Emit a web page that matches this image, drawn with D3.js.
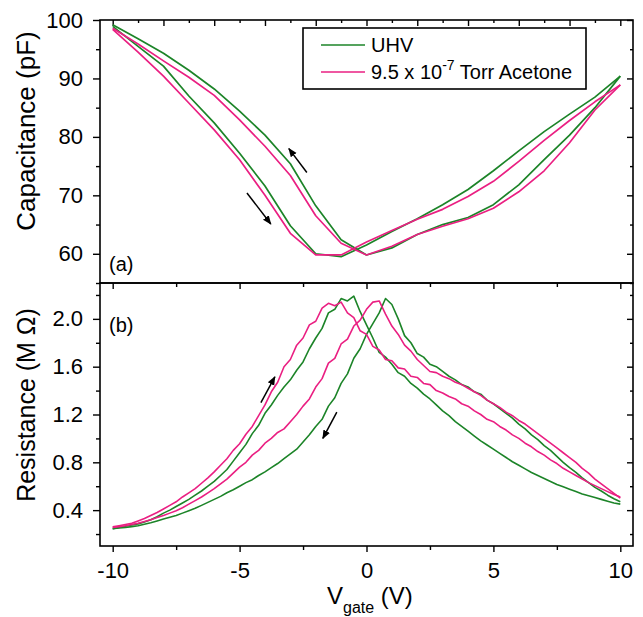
<!DOCTYPE html>
<html>
<head>
<meta charset="utf-8">
<script src="https://cdn.jsdelivr.net/npm/d3@7"></script>
<style>
  html, body { margin: 0; padding: 0; background: #fff; }
  svg text { font-family: "Liberation Sans", Arial, sans-serif; fill: #000; }
</style>
</head>
<body>
<svg id="chart" width="643" height="617"></svg>
<script>
// ---- Capacitance vs gate voltage (panel a) ----
const capVgate = [-10,-9,-8,-7,-6,-5,-4,-3,-2,-1,0,1,2,3,4,5,6,7,8,9,10];
const capUHVFwd = [98.9,95.5,92.1,87.0,82.4,77.2,71.6,64.8,60.0,59.5,61.5,63.8,66.0,68.4,71.0,74.2,77.6,80.9,83.9,86.8,90.4];
const capUHVBwd = [99.2,96.8,94.3,91.4,88.2,84.4,80.3,75.4,68.2,62.4,59.8,61.0,63.3,65.0,66.2,68.4,71.8,76.1,80.3,85.0,90.4];
const capAcetoneFwd = [98.4,94.5,90.4,85.8,81.2,76.1,70.0,63.5,59.8,59.8,62.0,64.0,65.9,67.6,69.8,72.4,75.8,79.4,82.8,86.0,88.9];
const capAcetoneBwd = [98.6,95.9,93.0,90.2,87.1,82.9,78.4,73.4,66.5,61.8,59.8,61.3,63.3,64.7,66.0,67.8,70.6,74.2,79.0,84.6,88.9];

// ---- Resistance vs gate voltage (panel b) ----
const resVgate = [-10,-9.75,-9.5,-9.25,-9,-8.75,-8.5,-8.25,-8,
  -7.75,-7.5,-7.25,-7,-6.75,-6.5,-6.25,-6,
  -5.75,-5.5,-5.25,-5,-4.75,-4.5,-4.25,-4,
  -3.75,-3.5,-3.25,-3,-2.75,-2.5,-2.25,-2,
  -1.75,-1.5,-1.25,-1,-0.75,-0.5,-0.25,0,
  0.25,0.5,0.75,1,1.25,1.5,1.75,2,
  2.25,2.5,2.75,3,3.25,3.5,3.75,4,
  4.25,4.5,4.75,5,5.25,5.5,5.75,6,
  6.25,6.5,6.75,7,7.25,7.5,7.75,8,
  8.25,8.5,8.75,9,9.25,9.5,9.75,10];
const resAcetoneFwd = [0.26,0.27,0.28,0.29,0.31,0.33,0.355,0.38,0.41,
  0.44,0.47,0.51,0.545,0.58,0.625,0.67,0.72,
  0.775,0.83,0.90,0.955,1.035,1.10,1.19,1.28,
  1.39,1.47,1.60,1.66,1.78,1.84,1.95,1.98,
  2.09,2.13,2.11,2.14,2.05,2.01,1.90,1.87,
  1.77,1.74,1.66,1.65,1.59,1.58,1.52,1.51,
  1.46,1.45,1.40,1.38,1.35,1.33,1.29,1.27,
  1.23,1.20,1.16,1.14,1.10,1.07,1.03,1.00,
  0.96,0.93,0.89,0.86,0.82,0.79,0.75,0.72,
  0.69,0.66,0.63,0.605,0.58,0.555,0.53,0.51];
const resUHVFwd = [0.245,0.255,0.265,0.275,0.285,0.30,0.32,0.345,0.375,
  0.40,0.43,0.46,0.49,0.525,0.56,0.60,0.64,
  0.69,0.74,0.81,0.88,0.95,1.04,1.11,1.21,
  1.28,1.36,1.43,1.49,1.57,1.64,1.75,1.84,
  1.92,2.05,2.08,2.17,2.15,2.19,2.06,1.95,
  1.84,1.72,1.68,1.62,1.55,1.52,1.46,1.42,
  1.37,1.33,1.28,1.23,1.19,1.14,1.10,1.06,
  1.02,0.98,0.945,0.91,0.875,0.84,0.805,0.775,
  0.745,0.715,0.69,0.665,0.64,0.615,0.595,0.575,
  0.555,0.535,0.52,0.505,0.49,0.475,0.46,0.45];
const resAcetoneBwd = [0.255,0.262,0.27,0.28,0.29,0.305,0.32,0.338,0.355,
  0.375,0.395,0.42,0.45,0.48,0.51,0.545,0.58,
  0.62,0.66,0.71,0.76,0.80,0.86,0.90,0.96,
  1.00,1.05,1.08,1.14,1.20,1.27,1.33,1.43,
  1.50,1.63,1.67,1.79,1.83,1.94,1.99,2.08,
  2.14,2.15,2.04,1.94,1.87,1.78,1.73,1.66,
  1.61,1.56,1.55,1.52,1.50,1.47,1.45,1.42,
  1.39,1.36,1.32,1.29,1.26,1.22,1.19,1.15,
  1.12,1.08,1.04,1.00,0.96,0.92,0.88,0.84,
  0.80,0.75,0.71,0.66,0.62,0.58,0.54,0.50];
const resUHVBwd = [0.245,0.25,0.255,0.262,0.27,0.282,0.295,0.31,0.325,
  0.34,0.355,0.375,0.395,0.415,0.44,0.465,0.49,
  0.515,0.545,0.57,0.60,0.63,0.655,0.69,0.72,
  0.755,0.79,0.83,0.87,0.91,0.97,1.03,1.10,
  1.16,1.27,1.34,1.46,1.54,1.67,1.75,1.87,
  1.96,2.05,2.17,2.12,2.00,1.86,1.80,1.71,
  1.68,1.62,1.60,1.56,1.52,1.49,1.45,1.43,
  1.39,1.37,1.32,1.29,1.25,1.21,1.17,1.12,
  1.08,1.03,0.99,0.94,0.90,0.85,0.80,0.755,
  0.715,0.67,0.63,0.59,0.56,0.525,0.495,0.47];

// ---- Tick values ----
const xLabelTicks = [-10,-5,0,5,10];
const xMinorTicks = [-7.5,-2.5,2.5,7.5];
const xTopMajor = [-10,-8,-6,-4,-2,0,2,4,6,8,10];
const xTopMinor = [-9,-7,-5,-3,-1,1,3,5,7,9];
const capMajor = [60,70,80,90,100];
const capMinor = [55,65,75,85,95];
const resMajor = [0.4,0.8,1.2,1.6,2.0];
const resMinor = [0.2,0.6,1.0,1.4,1.8,2.2];

// ---- Series / legend ----
const legendLabels = ["UHV", "9.5 x 10", "-7", " Torr Acetone"];
const colorUHV = "#1c8428";
const colorAcetone = "#ea1f82";

// Direction arrows, [gate voltage, value] from tail to head
const capArrows = [[[-2.35,73.9],[-3.06,78.0]], [[-4.71,70.4],[-3.77,65.1]]];
const resArrows = [[[-4.16,1.30],[-3.61,1.515]], [[-1.17,1.22],[-1.72,1.0]]];

const svg = d3.select("#chart");
const L = 100, R = 633, T1 = 20, MID = 283, B2 = 546;
const FONT = '"Liberation Sans", Arial, sans-serif';

const x = d3.scaleLinear().domain([-10.5, 10.5]).range([L, R]);
const yCap = d3.scaleLinear().domain([55, 100]).range([MID, T1]);
const yRes = d3.scaleLinear().domain([0.1, 2.3]).range([B2, MID]);

svg.append("defs").append("marker")
  .attr("id", "head").attr("viewBox", "0 0 10 10")
  .attr("refX", 9).attr("refY", 5)
  .attr("markerWidth", 9).attr("markerHeight", 9)
  .attr("markerUnits", "userSpaceOnUse")
  .attr("orient", "auto")
  .append("path").attr("d", "M0,1 L10,5 L0,9 Z").attr("fill", "#000");

function styleAxis(g, fontSize) {
  g.select(".domain").remove();
  g.selectAll(".tick line").attr("stroke", "#000").attr("stroke-width", 1.4);
  g.selectAll(".tick text").attr("font-size", fontSize).attr("fill", "#000")
    .attr("font-family", FONT);
}
const plainNum = d => String(d);
const oneDec = d => d.toFixed(1);

// ---- Panel (a) axes ----
svg.append("g").attr("transform", `translate(${L},0)`)
  .call(d3.axisLeft(yCap).tickValues(capMajor).tickSize(7).tickPadding(10).tickFormat(plainNum))
  .call(g => styleAxis(g, 22));
svg.append("g").attr("transform", `translate(${L},0)`)
  .call(d3.axisLeft(yCap).tickValues(capMinor).tickSize(4).tickFormat(""))
  .call(g => styleAxis(g, 0));
svg.append("g").attr("transform", `translate(${R},0)`)
  .call(d3.axisRight(yCap).tickValues(capMajor).tickSize(-6).tickFormat(""))
  .call(g => styleAxis(g, 0));
svg.append("g").attr("transform", `translate(${R},0)`)
  .call(d3.axisRight(yCap).tickValues(capMinor).tickSize(-3).tickFormat(""))
  .call(g => styleAxis(g, 0));
svg.append("g").attr("transform", `translate(0,${T1})`)
  .call(d3.axisTop(x).tickValues(xTopMajor).tickSize(-6).tickFormat(""))
  .call(g => styleAxis(g, 0));
svg.append("g").attr("transform", `translate(0,${T1})`)
  .call(d3.axisTop(x).tickValues(xTopMinor).tickSize(-3).tickFormat(""))
  .call(g => styleAxis(g, 0));

// ---- Panel (b) axes ----
svg.append("g").attr("transform", `translate(${L},0)`)
  .call(d3.axisLeft(yRes).tickValues(resMajor).tickSize(7).tickPadding(10).tickFormat(oneDec))
  .call(g => styleAxis(g, 22));
svg.append("g").attr("transform", `translate(${L},0)`)
  .call(d3.axisLeft(yRes).tickValues(resMinor).tickSize(4).tickFormat(""))
  .call(g => styleAxis(g, 0));
svg.append("g").attr("transform", `translate(${R},0)`)
  .call(d3.axisRight(yRes).tickValues(resMajor).tickSize(-6).tickFormat(""))
  .call(g => styleAxis(g, 0));
svg.append("g").attr("transform", `translate(${R},0)`)
  .call(d3.axisRight(yRes).tickValues(resMinor).tickSize(-3).tickFormat(""))
  .call(g => styleAxis(g, 0));
svg.append("g").attr("transform", `translate(0,${MID})`)
  .call(d3.axisTop(x).tickValues(xLabelTicks).tickSize(-6).tickFormat(""))
  .call(g => styleAxis(g, 0));
svg.append("g").attr("transform", `translate(0,${MID})`)
  .call(d3.axisTop(x).tickValues(xMinorTicks).tickSize(-4).tickFormat(""))
  .call(g => styleAxis(g, 0));
svg.append("g").attr("transform", `translate(0,${B2})`)
  .call(d3.axisBottom(x).tickValues(xLabelTicks).tickSize(6).tickPadding(10).tickFormat(plainNum))
  .call(g => styleAxis(g, 22));
svg.append("g").attr("transform", `translate(0,${B2})`)
  .call(d3.axisBottom(x).tickValues(xMinorTicks).tickSize(4).tickFormat(""))
  .call(g => styleAxis(g, 0));

// ---- Curves ----
const lineCap = d3.line().x(d => x(d[0])).y(d => yCap(d[1]));
const lineRes = d3.line().x(d => x(d[0])).y(d => yRes(d[1]));

const capCurves = [
  [capUHVFwd, colorUHV], [capUHVBwd, colorUHV],
  [capAcetoneFwd, colorAcetone], [capAcetoneBwd, colorAcetone]
];
capCurves.forEach(([vals, col]) => {
  svg.append("path").datum(d3.zip(capVgate, vals))
    .attr("d", lineCap).attr("fill", "none")
    .attr("stroke", col).attr("stroke-width", 1.7).attr("stroke-linejoin", "round");
});

const resCurves = [
  [resUHVFwd, colorUHV], [resUHVBwd, colorUHV],
  [resAcetoneFwd, colorAcetone], [resAcetoneBwd, colorAcetone]
];
resCurves.forEach(([vals, col]) => {
  svg.append("path").datum(d3.zip(resVgate, vals))
    .attr("d", lineRes).attr("fill", "none")
    .attr("stroke", col).attr("stroke-width", 1.6).attr("stroke-linejoin", "round");
});

// ---- Sweep direction arrows ----
function drawArrows(list, yScale) {
  list.forEach(([a, b]) => {
    svg.append("line")
      .attr("x1", x(a[0])).attr("y1", yScale(a[1]))
      .attr("x2", x(b[0])).attr("y2", yScale(b[1]))
      .attr("stroke", "#000").attr("stroke-width", 1.5)
      .attr("marker-end", "url(#head)");
  });
}
drawArrows(capArrows, yCap);
drawArrows(resArrows, yRes);

// ---- Frames ----
svg.append("rect").attr("x", L).attr("y", T1).attr("width", R - L).attr("height", MID - T1)
  .attr("fill", "none").attr("stroke", "#000").attr("stroke-width", 1.6);
svg.append("rect").attr("x", L).attr("y", MID).attr("width", R - L).attr("height", B2 - MID)
  .attr("fill", "none").attr("stroke", "#000").attr("stroke-width", 1.6);

// ---- Panel tags ----
svg.append("text").attr("x", 109).attr("y", 271).attr("font-size", 20).text("(a)");
svg.append("text").attr("x", 109).attr("y", 332).attr("font-size", 20).text("(b)");

// ---- Axis titles ----
svg.append("text").attr("transform", "translate(35,131) rotate(-90)")
  .attr("text-anchor", "middle").attr("font-size", 26).text("Capacitance (pF)");
svg.append("text").attr("transform", "translate(35,405) rotate(-90)")
  .attr("text-anchor", "middle").attr("font-size", 25).text("Resistance (M \u03A9)");
const xt = svg.append("text").attr("x", 327).attr("y", 604).attr("font-size", 24);
xt.append("tspan").text("V");
xt.append("tspan").attr("font-size", 16).attr("dy", 9).text("gate");
xt.append("tspan").attr("dy", -9).text(" (V)");

// ---- Legend ----
const lg = svg.append("g");
lg.append("rect").attr("x", 303).attr("y", 28).attr("width", 283).attr("height", 61)
  .attr("fill", "#fff").attr("stroke", "#000").attr("stroke-width", 1.6);
lg.append("line").attr("x1", 321).attr("x2", 365).attr("y1", 45).attr("y2", 45)
  .attr("stroke", colorUHV).attr("stroke-width", 1.7);
lg.append("line").attr("x1", 321).attr("x2", 365).attr("y1", 72).attr("y2", 72)
  .attr("stroke", colorAcetone).attr("stroke-width", 1.7);
lg.append("text").attr("x", 371).attr("y", 52).attr("font-size", 20).text(legendLabels[0]);
const t2 = lg.append("text").attr("x", 371).attr("y", 79).attr("font-size", 20);
t2.append("tspan").text(legendLabels[1]);
t2.append("tspan").attr("font-size", 14).attr("dy", -9).text(legendLabels[2]);
t2.append("tspan").attr("dy", 9).text(legendLabels[3]);
</script>
</body>
</html>
